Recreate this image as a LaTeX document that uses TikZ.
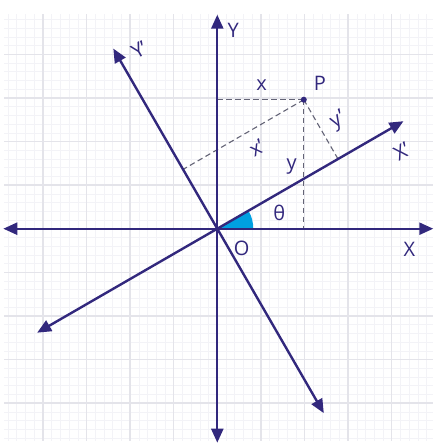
\documentclass[tikz,border=0pt]{standalone}
\usepackage{fontspec}
\setmainfont{Open Sans}
\usepackage{xcolor}
\usepackage{tikz}
\usetikzlibrary{arrows.meta, calc}
\definecolor{axisblue}{RGB}{50, 40, 125}
\definecolor{dashgray}{RGB}{100, 100, 118}
\definecolor{anglecyan}{RGB}{0, 160, 225}
\definecolor{majorgray}{RGB}{228, 228, 234}
\definecolor{minorgray}{RGB}{243, 243, 247}

\begin{document}
\begin{tikzpicture}[
    x=1pt, y=1pt,
    minorGrid/.style={draw=minorgray, line width=0.5pt},
    majorGrid/.style={draw=majorgray, line width=1.5pt},
    axisLine/.style={draw=axisblue, line width=2.4pt, {Triangle[length=14pt,width=12pt]}-{Triangle[length=14pt,width=12pt]}},
    dashLine/.style={draw=dashgray, line width=1.1pt, dash pattern=on 5.5pt off 3.5pt},
    axisLabel/.style={font=\fontsize{20}{24}\selectfont, text=axisblue, inner sep=0pt},
    pointDot/.style={circle, fill=axisblue, minimum size=6pt, inner sep=0pt}
]
\useasboundingbox (-217.3,-216.3) rectangle (220.7,228.7);

% Background grid
\draw[minorGrid, step=8.72pt] (-213,-212) grid (216,215);
\draw[majorGrid, step=43.6pt] (-213,-212) grid (216,215);

% Axis end points
\coordinate (O) at (0,0);
\coordinate (xStart) at (-214,0);
\coordinate (xEnd) at (216,0);
\coordinate (yStart) at (0,-214);
\coordinate (yEnd) at (0,214);
\coordinate (xpStart) at (210:208);
\coordinate (xpEnd) at (30:215);
\coordinate (ypStart) at (300:213);
\coordinate (ypEnd) at (120:208);

% Angle theta
\fill[anglecyan] (O) -- (36,0) arc[start angle=0, end angle=30, radius=36] -- cycle;

% Point P and its projections
\coordinate (P) at (86.5,129);
\coordinate (footY) at ($(O)!(P)!(yEnd)$);
\coordinate (footX) at ($(O)!(P)!(xEnd)$);
\coordinate (footYp) at ($(O)!(P)!(ypEnd)$);
\coordinate (footXp) at ($(O)!(P)!(xpEnd)$);
\draw[dashLine] (footY) -- (P);
\draw[dashLine] (P) -- (footX);
\draw[dashLine] (P) -- (footYp);
\draw[dashLine] (P) -- (footXp);

% Axes
\draw[axisLine] (xStart) -- (xEnd);
\draw[axisLine] (yStart) -- (yEnd);
\draw[axisLine] (xpStart) -- (xpEnd);
\draw[axisLine] (ypStart) -- (ypEnd);
\node[pointDot] (pDot) at (P) {};

% Labels
\node[axisLabel] (labX) at (192,-20.6) {X};
\node[axisLabel] (labY) at (16,198) {Y};
\node[axisLabel, rotate=30] (labXp) at (184.4,77) {X'};
\node[axisLabel, rotate=30] (labYp) at (-78,178.7) {Y'};
\node[axisLabel] (labO) at (24.4,-19.6) {O};
\node[axisLabel] (labP) at (102.7,145.4) {P};
\node[axisLabel] (labx) at (44.4,143.7) {x};
\node[axisLabel] (laby) at (74.4,62) {y};
\node[axisLabel, rotate=30] (labxp) at (39.4,80.4) {x'};
\node[axisLabel, rotate=30] (labyp) at (121,108) {y'};
\node[axisLabel] (labTheta) at (62,15.4) {θ};

\end{tikzpicture}
\end{document}
